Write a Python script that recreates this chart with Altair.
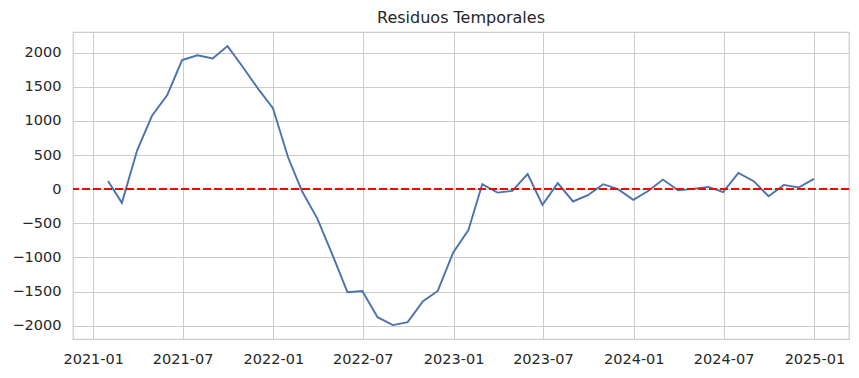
import altair as alt
import pandas as pd

dates = pd.date_range("2021-01-31", "2024-12-31", freq="ME").strftime("%Y-%m-%d").tolist()
residuals = [
    120, -200, 570, 1075, 1380, 1890, 1960, 1915, 2095, 1790, 1480, 1185,
    460, -30, -430, -950, -1508, -1490, -1875, -1990, -1946, -1640, -1490, -930,
    -600, 73, -50, -25, 222, -229, 88, -180, -88, 73, 0, -156,
    -24, 141, -15, 5, 34, -44, 238, 117, -102, 63, 25, 150,
]
y_ticks = [-2000, -1500, -1000, -500, 0, 500, 1000, 1500, 2000]
x_tick_months = [(2021, 1), (2021, 7), (2022, 1), (2022, 7), (2023, 1),
                 (2023, 7), (2024, 1), (2024, 7), (2025, 1)]

df = pd.DataFrame({"fecha": dates, "residuo": residuals})

y_scale = alt.Scale(domain=[-2194, 2302], nice=False, zero=False)
y_axis = alt.Axis(values=y_ticks, title=None, format="d", labelOverlap=False,
                  labelPadding=12, tickCount=9)

x_enc = alt.X(
    "fecha:T",
    scale=alt.Scale(type="utc",
                    domain=[alt.DateTime(year=2020, month=11, date=21, utc=True),
                            alt.DateTime(year=2025, month=3, date=12, utc=True)]),
    axis=alt.Axis(values=[alt.DateTime(year=y, month=m, date=1, utc=True) for y, m in x_tick_months],
                  format="%Y-%m", title=None, labelOverlap=False, labelPadding=13),
)
y_enc = alt.Y("residuo:Q", scale=y_scale, axis=y_axis)

line = alt.Chart(df).mark_line(color="#4c72b0", strokeWidth=1.9).encode(x=x_enc, y=y_enc)
zero = alt.Chart(df).mark_rule(color="red", strokeWidth=1.8, strokeDash=[7.5, 3.5]).encode(
    y=alt.Y(datum=0, type="quantitative", scale=y_scale, axis=y_axis)
)

chart = (
    alt.layer(line, zero)
    .properties(
        width=776, height=307,
        title=alt.TitleParams("Residuos Temporales", fontSize=16, fontWeight="normal",
                              color="#262626", font="DejaVu Sans", offset=6),
        autosize=alt.AutoSizeParams(type="none"),
        padding={"left": 73, "top": 32, "right": 10, "bottom": 39},
        background="white",
    )
    .configure_view(stroke="#cccccc", strokeWidth=1.25)
    .configure_axis(
        grid=True, gridColor="#cccccc", gridWidth=1, gridOpacity=1, domain=False, ticks=False,
        labelFont="DejaVu Sans", labelFontSize=14.5, labelColor="#262626",
    )
)

chart.save("out.html", embed_options={"renderer": "svg", "actions": False})
